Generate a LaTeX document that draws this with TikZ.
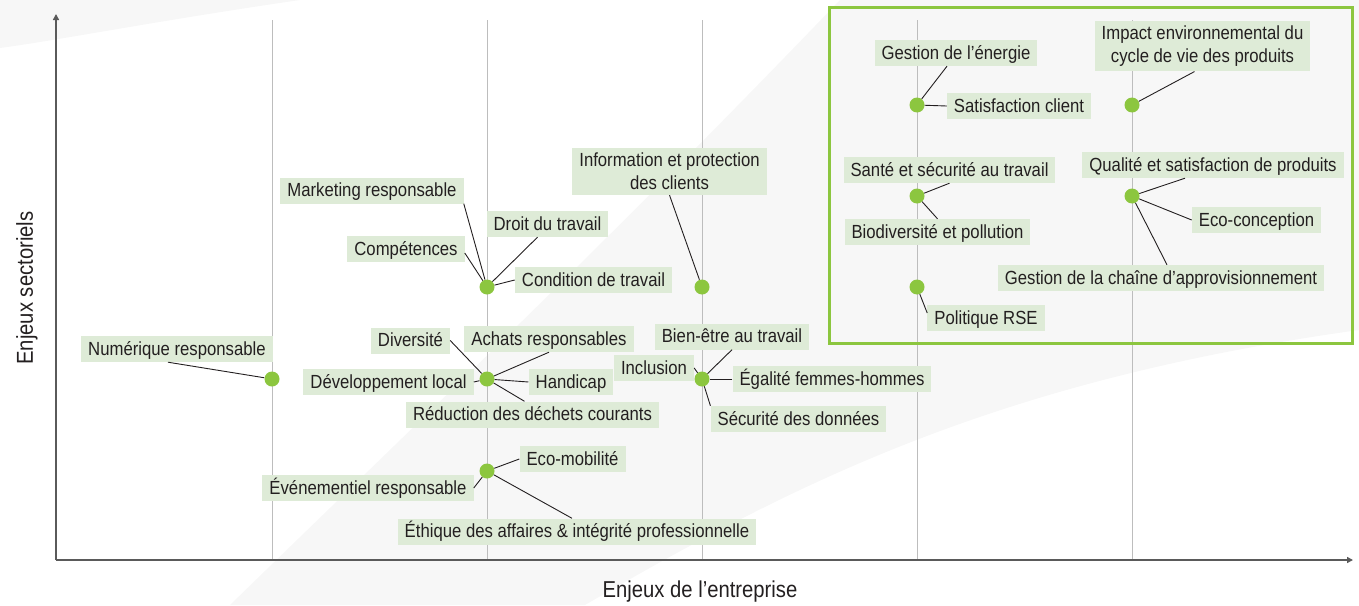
\documentclass[tikz,border=0pt]{standalone}
\usepackage{fontspec}
\setmainfont{Liberation Sans}[FakeStretch=0.88]
\usepackage{xcolor}
\usepackage{tikz}
\usetikzlibrary{arrows.meta}
\definecolor{dotcolor}{HTML}{8CC63F}
\definecolor{boxcolor}{HTML}{DEEBD7}
\definecolor{inkcolor}{HTML}{231F20}
\definecolor{gridcolor}{HTML}{BDBDBD}
\definecolor{axiscolor}{HTML}{5A5A5A}
\definecolor{swooshcolor}{HTML}{F7F7F7}

\begin{document}
\begin{tikzpicture}[x=1pt, y=-1pt,
  tag/.style={fill=boxcolor, text=inkcolor, inner xsep=7pt, inner ysep=0pt, minimum height=26pt, text height=16.5pt, text depth=4pt, font=\fontsize{19}{23}\selectfont},
  tagtwo/.style={fill=boxcolor, text=inkcolor, inner xsep=7pt, inner ysep=5pt, align=center, font=\fontsize{19}{23}\selectfont},
  dot/.style={circle, fill=dotcolor, minimum size=15pt, inner sep=0pt},
  link/.style={draw=inkcolor, line width=0.9pt},
  gridline/.style={draw=gridcolor, line width=1pt},
  axisline/.style={draw=axiscolor, line width=1.6pt, -{Triangle[length=6pt, width=6pt]}},
  greenframe/.style={draw=dotcolor, line width=3pt},
  axistext/.style={text=inkcolor, font=\fontsize{23}{26}\selectfont}]%
\useasboundingbox (0,0) rectangle (1359,605);%
\fill[swooshcolor] (0,0) -- (300,0) .. controls (150,22) and (60,40) .. (0,48) -- cycle;%
\fill[swooshcolor] (230,605) .. controls (420,420) and (600,250) .. (840,0) -- (1359,0) -- (1359,330) .. controls (1000,380) and (800,480) .. (585,605) -- cycle;%
\foreach \x in {272,487,702,917,1132}
  \draw[gridline] (\x,20) -- (\x,560);%
\draw[greenframe] (829,7) rectangle (1352,343);%
\coordinate (o) at (56,560);%
\coordinate (ytop) at (56,14);%
\coordinate (xend) at (1353,560);%
\draw[axisline] (o) -- (ytop);%
\draw[axisline] (o) -- (xend);%
\node[axistext, rotate=90] (ylab) at (27,288) {Enjeux sectoriels};%
\node[axistext] (xlab) at (700,592) {Enjeux de l’entreprise};%
% points
\node[dot] (num) at (272,379) {};%
\node[dot] (rh) at (487,287) {};%
\node[dot] (cli) at (702,287) {};%
\node[dot] (loc) at (487,379) {};%
\node[dot] (gouv) at (487,471) {};%
\node[dot] (soc) at (702,379) {};%
\node[dot] (ener) at (917,105) {};%
\node[dot] (sante) at (917,196) {};%
\node[dot] (rse) at (917,287) {};%
\node[dot] (cycle) at (1132,105) {};%
\node[dot] (prod) at (1132,196) {};%
% labels
\node[tag] (tNum) at (177,349) {Numérique responsable};%
\node[tag] (tMkt) at (372,190.5) {Marketing responsable};%
\node[tag] (tDroit) at (547.5,224) {Droit du travail};%
\node[tag] (tComp) at (406,249) {Compétences};%
\node[tag] (tCond) at (593.5,280) {Condition de travail};%
\node[tagtwo] (tInfo) at (669.5,171.5) {Information et protection\\des clients};%
\node[tag] (tDiv) at (410.5,340.5) {Diversité};%
\node[tag] (tAchat) at (549,339) {Achats responsables};%
\node[tag] (tDev) at (388.5,382) {Développement local};%
\node[tag] (tHand) at (571,382) {Handicap};%
\node[tag] (tDech) at (532.5,414.5) {Réduction des déchets courants};%
\node[tag] (tMob) at (572.5,459) {Eco-mobilité};%
\node[tag] (tEvt) at (368,488) {Événementiel responsable};%
\node[tag] (tEth) at (577,531.5) {Éthique des affaires \& intégrité professionnelle};%
\node[tag] (tBien) at (732,336.5) {Bien-être au travail};%
\node[tag] (tIncl) at (654,368) {Inclusion};%
\node[tag] (tEgal) at (832,379) {Égalité femmes-hommes};%
\node[tag] (tSecu) at (798.5,419) {Sécurité des données};%
\node[tag] (tEner) at (956,53) {Gestion de l’énergie};%
\node[tag] (tSat) at (1019,106) {Satisfaction client};%
\node[tag] (tSante) at (949.5,170) {Santé et sécurité au travail};%
\node[tag] (tBio) at (937.5,232) {Biodiversité et pollution};%
\node[tag] (tRse) at (986,318) {Politique RSE};%
\node[tagtwo] (tCycle) at (1202.5,46) {Impact environnemental du\\cycle de vie des produits};%
\node[tag] (tQual) at (1213,165) {Qualité et satisfaction de produits};%
\node[tag] (tEco) at (1256.5,220) {Eco-conception};%
\node[tag] (tChaine) at (1161,278) {Gestion de la chaîne d’approvisionnement};%
% links
\draw[link] ([xshift=-9pt]tNum.south) -- (num);%
\draw[link] (tMkt.south east) -- (rh);%
\draw[link] ([xshift=-10pt]tDroit.south) -- (rh);%
\draw[link] ([yshift=-4pt]tComp.east) -- (rh);%
\draw[link] (tCond.west) -- (rh);%
\draw[link] (tInfo.south) -- (cli);%
\draw[link] (tDiv.east) -- (loc);%
\draw[link] (tAchat.south) -- (loc);%
\draw[link] (tDev.east) -- (loc);%
\draw[link] (tHand.west) -- (loc);%
\draw[link] ([xshift=-8pt]tDech.north) -- (loc);%
\draw[link] (tMob.west) -- (gouv);%
\draw[link] (tEvt.east) -- (gouv);%
\draw[link] ([xshift=-5pt]tEth.north) -- (gouv);%
\draw[link] (tBien.south) -- (soc);%
\draw[link] (tIncl.east) -- (soc);%
\draw[link] (tEgal.west) -- (soc);%
\draw[link] (tSecu.north west) -- (soc);%
\draw[link] ([xshift=-9pt]tEner.south) -- (ener);%
\draw[link] (tSat.west) -- (ener);%
\draw[link] (tSante.south) -- (sante);%
\draw[link] (tBio.north) -- (sante);%
\draw[link] ([yshift=5pt]tRse.west) -- (rse);%
\draw[link] ([xshift=-8pt]tCycle.south) -- (cycle);%
\draw[link] ([xshift=-28pt]tQual.south) -- (prod);%
\draw[link] (tEco.west) -- (prod);%
\draw[link] ([xshift=6pt]tChaine.north) -- (prod);%
\end{tikzpicture}
\end{document}
